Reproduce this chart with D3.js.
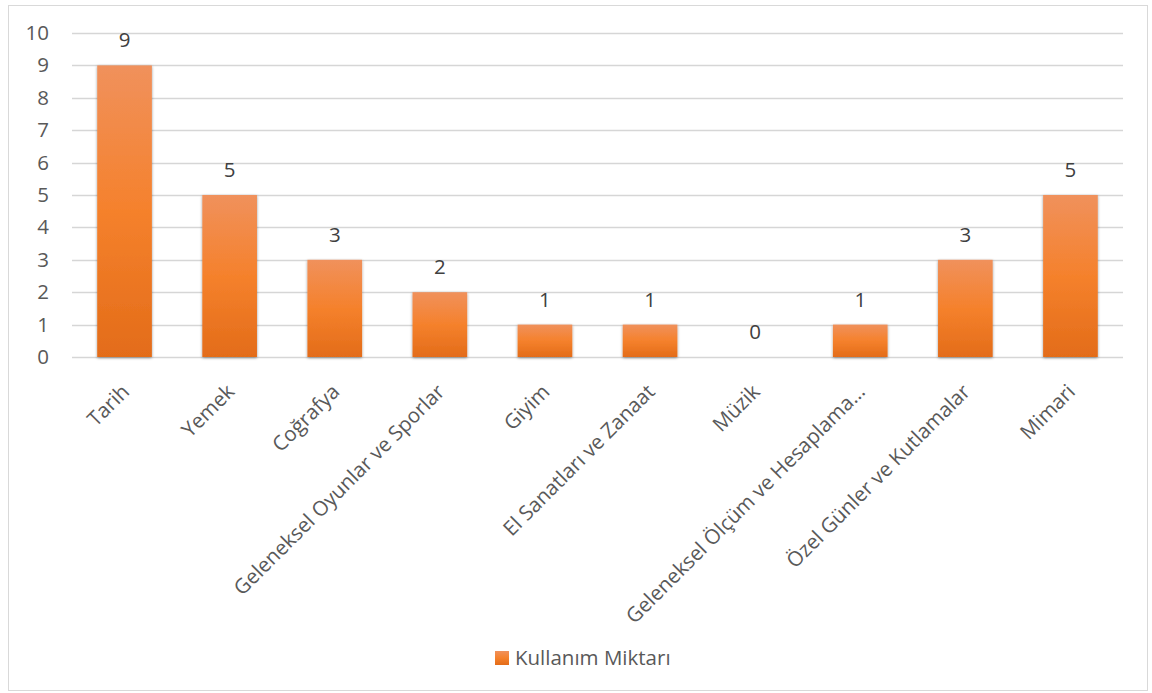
<!DOCTYPE html>
<html>
<head>
<meta charset="utf-8">
<script src="https://cdn.jsdelivr.net/npm/d3@7"></script>
<style>
  body { margin: 0; background: #fff; }
  svg { display: block; font-family: "Open Sans", "Noto Sans", sans-serif; }
</style>
</head>
<body>
<svg id="chart" width="1152" height="693"></svg>
<script>
// Usage counts per topic
const categories = [
  "Tarih", "Yemek", "Coğrafya", "Geleneksel Oyunlar ve Sporlar", "Giyim",
  "El Sanatları ve Zanaat", "Müzik", "Geleneksel Ölçüm ve Hesaplama…",
  "Özel Günler ve Kutlamalar", "Mimari"
];
const values = [9, 5, 3, 2, 1, 1, 0, 1, 3, 5];
const yTicks = [0, 1, 2, 3, 4, 5, 6, 7, 8, 9, 10];
const seriesName = "Kullanım Miktarı";

const svg = d3.select("#chart");
const plot = { left: 72, right: 1123, top: 33, bottom: 357 };
const FS = 20.5;

// Outer frame
svg.append("rect")
  .attr("x", 8.5).attr("y", 5.5)
  .attr("width", 1139).attr("height", 685)
  .attr("fill", "#fff").attr("stroke", "#d9d9d9");

const defs = svg.append("defs");
const grad = defs.append("linearGradient")
  .attr("id", "barGrad").attr("x1", 0).attr("y1", 0).attr("x2", 0).attr("y2", 1);
grad.append("stop").attr("offset", "0%").attr("stop-color", "#f0915c");
grad.append("stop").attr("offset", "50%").attr("stop-color", "#f5812c");
grad.append("stop").attr("offset", "100%").attr("stop-color", "#e36c19");

const shadow = defs.append("filter").attr("id", "barShadow")
  .attr("x", "-20%").attr("y", "-5%").attr("width", "140%").attr("height", "115%");
shadow.append("feGaussianBlur").attr("in", "SourceAlpha").attr("stdDeviation", 1.8).attr("result", "b");
shadow.append("feOffset").attr("in", "b").attr("dx", -0.5).attr("dy", 1).attr("result", "o");
shadow.append("feComponentTransfer").attr("in", "o").attr("result", "s")
  .append("feFuncA").attr("type", "linear").attr("slope", 0.4);
const merge = shadow.append("feMerge");
merge.append("feMergeNode").attr("in", "s");
merge.append("feMergeNode").attr("in", "SourceGraphic");

const x = d3.scaleBand()
  .domain(categories)
  .range([plot.left, plot.right])
  .paddingInner(0.48).paddingOuter(0.24);

const y = d3.scaleLinear()
  .domain([0, 10])
  .range([plot.bottom, plot.top]);

// Horizontal gridlines
svg.append("g")
  .selectAll("line")
  .data(yTicks)
  .join("line")
  .attr("x1", plot.left).attr("x2", plot.right)
  .attr("y1", d => Math.round(y(d)) + 0.5).attr("y2", d => Math.round(y(d)) + 0.5)
  .attr("stroke", "#d6d6d6").attr("stroke-width", 1.5);

// Y axis labels
const yAxis = svg.append("g")
  .attr("transform", `translate(${plot.left - 23},0)`)
  .call(d3.axisLeft(y).tickValues(yTicks).tickSize(0).tickPadding(0).tickFormat(d3.format("d")));
yAxis.select(".domain").remove();
yAxis.selectAll("text")
  .attr("font-size", FS).attr("fill", "#595959")
  .style("font-family", "\"Open Sans\", sans-serif");

// Bars
svg.append("g")
  .selectAll("rect")
  .data(categories.map((c, i) => ({ c, v: values[i] })))
  .join("rect")
  .filter(d => d.v > 0)
  .attr("x", d => x(d.c))
  .attr("y", d => y(d.v))
  .attr("width", x.bandwidth())
  .attr("height", d => y(0) - y(d.v))
  .attr("fill", "url(#barGrad)")
  .attr("filter", "url(#barShadow)");

// Value labels
svg.append("g")
  .selectAll("text")
  .data(categories.map((c, i) => ({ c, v: values[i] })))
  .join("text")
  .attr("x", d => x(d.c) + x.bandwidth() / 2)
  .attr("y", d => y(d.v) - 18)
  .attr("text-anchor", "middle")
  .attr("font-size", FS).attr("fill", "#404040")
  .text(d => d.v);

// Category labels, rotated
const xAxis = svg.append("g")
  .attr("transform", `translate(0,${plot.bottom})`)
  .call(d3.axisBottom(x).tickSize(0).tickPadding(0));
xAxis.select(".domain").remove();
xAxis.selectAll("text")
  .attr("font-size", FS).attr("fill", "#595959")
  .style("font-family", "\"Open Sans\", sans-serif")
  .attr("text-anchor", "end")
  .attr("dy", 0)
  .attr("transform", "translate(6,36) rotate(-45)");

// Legend
const legend = svg.append("g").attr("transform", "translate(495,651)");
legend.append("rect").attr("width", 14).attr("height", 14).attr("fill", "url(#barGrad)");
legend.append("text")
  .attr("x", 20).attr("y", 14)
  .attr("font-size", FS).attr("fill", "#595959")
  .text(seriesName);
</script>
</body>
</html>
